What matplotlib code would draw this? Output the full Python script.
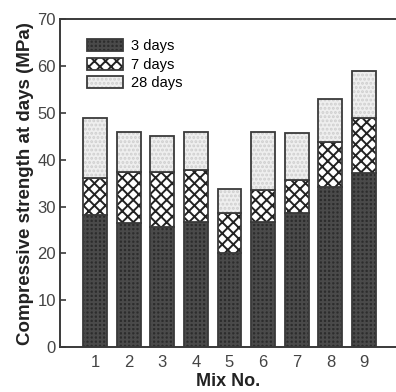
import matplotlib
matplotlib.use('Agg')
import matplotlib.pyplot as plt
import numpy as np

mixes = ['1', '2', '3', '4', '5', '6', '7', '8', '9']
# compressive strength (MPa) at each age
day3 = [28.2, 26.4, 25.7, 26.7, 20.1, 26.7, 28.6, 34.1, 37.1]
day7 = [36.1, 37.3, 37.5, 37.8, 28.6, 33.6, 35.7, 43.8, 48.9]
day28 = [48.9, 46.0, 45.1, 45.9, 33.7, 46.0, 45.8, 53.0, 58.9]

plt.rcParams['font.family'] = ['Liberation Sans', 'DejaVu Sans']
plt.rcParams['hatch.linewidth'] = 1.4

fig = plt.figure(figsize=(3.96, 3.92), dpi=100)
ax = fig.add_axes([0.1515, 0.1148, 0.8485, 0.8355])

x = np.arange(1, len(mixes) + 1)
d3 = np.array(day3)
d7 = np.array(day7)
d28 = np.array(day28)
w = 0.71
edge = '#3a3a3a'

layers = [
    (d3 * 0, d3, '#2c2c2c', '#4a4a4a', '++++', '3 days'),
    (d3, d7 - d3, 'white', '#222222', 'xxx', '7 days'),
    (d7, d28 - d7, '#efefef', '#cfcfcf', '....', '28 days'),
]
handles = []
for bottom, height, fc, hc, hatch, lab in layers:
    fill = ax.bar(x, height, w, bottom=bottom, color=fc, edgecolor=hc,
                  hatch=hatch, linewidth=0)
    line = ax.bar(x, height, w, bottom=bottom, fill=False, edgecolor=edge,
                  linewidth=1.3)
    handles.append((fill[0], line[0]))

ax.legend(handles, [l[-1] for l in layers], loc='upper left',
          bbox_to_anchor=(0.08, 0.94), frameon=False, fontsize=10.5,
          handlelength=2.5, handleheight=0.9, labelspacing=0.3,
          handletextpad=0.5, borderpad=0, borderaxespad=0)

ax.set_xlim(-0.04, 9.95)
ax.set_ylim(0, 70)
ax.set_xticks(x)
ax.set_xticklabels(mixes)
ax.set_yticks(np.arange(0, 71, 10))
ax.tick_params(axis='y', direction='in', length=4, width=1.2, colors=edge,
               labelsize=12, labelcolor='#444444', pad=3)
ax.tick_params(axis='x', length=0, labelsize=12, labelcolor='#444444', pad=6)

for s in ['left', 'bottom', 'top']:
    ax.spines[s].set_linewidth(1.4)
    ax.spines[s].set_color(edge)
ax.spines['right'].set_visible(False)

ax.set_xlabel('Mix No.', fontsize=13, fontweight='bold', color='#222222',
              labelpad=2)
ax.set_ylabel('Compressive strength at days (MPa)', fontsize=13.5,
              fontweight='bold', color='#222222', labelpad=2)

plt.savefig('out.png', dpi=100)
